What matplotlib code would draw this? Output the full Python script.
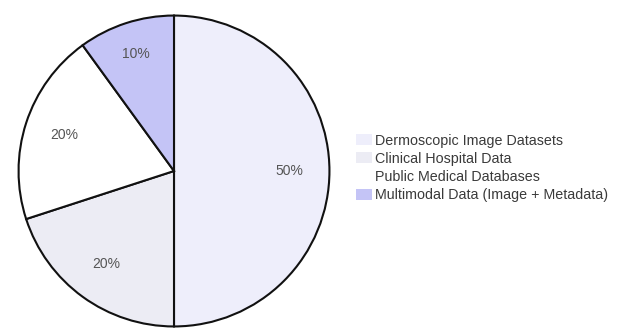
import numpy as np
import matplotlib.pyplot as plt
from matplotlib.patches import Patch

# data sources for the skin lesion study
labels = ['Dermoscopic Image Datasets', 'Clinical Hospital Data',
          'Public Medical Databases', 'Multimodal Data (Image + Metadata)']
shares = [50, 20, 20, 10]
colors = ['#eeeefb', '#ececf4', '#ffffff', '#c4c4f6']

plt.rcParams['font.family'] = ['Liberation Sans', 'DejaVu Sans']

fig = plt.figure(figsize=(6.26, 3.29), dpi=100)
ax = fig.add_axes([17/626, 1/329, 314/626, 314/329])

wedges, texts, autotexts = ax.pie(shares, colors=colors, startangle=90,
                                  counterclock=False, autopct='%d%%',
                                  pctdistance=0.74,
                                  wedgeprops=dict(edgecolor='#111111', linewidth=1.5),
                                  textprops=dict(fontsize=10, color='#555555'))

# the small slice label sits a bit further out
w = wedges[3]
mid = np.deg2rad((w.theta1 + w.theta2) / 2)
autotexts[3].set_position((0.79*np.cos(mid), 0.79*np.sin(mid)))

ax.set_xlim(-1.01, 1.01)
ax.set_ylim(-1.01, 1.01)
ax.set_aspect('equal')

# legend swatches without outlines
handles = [Patch(facecolor=c, edgecolor='none') for c in colors]
fig.legend(handles, labels, loc='center left', bbox_to_anchor=(343/626, 1-168/329),
           frameon=False, fontsize=10.3, handlelength=1.12, handleheight=0.8,
           handletextpad=0.2, labelspacing=0.3, labelcolor='#3a3a3a')

plt.savefig('out.png', dpi=100)
